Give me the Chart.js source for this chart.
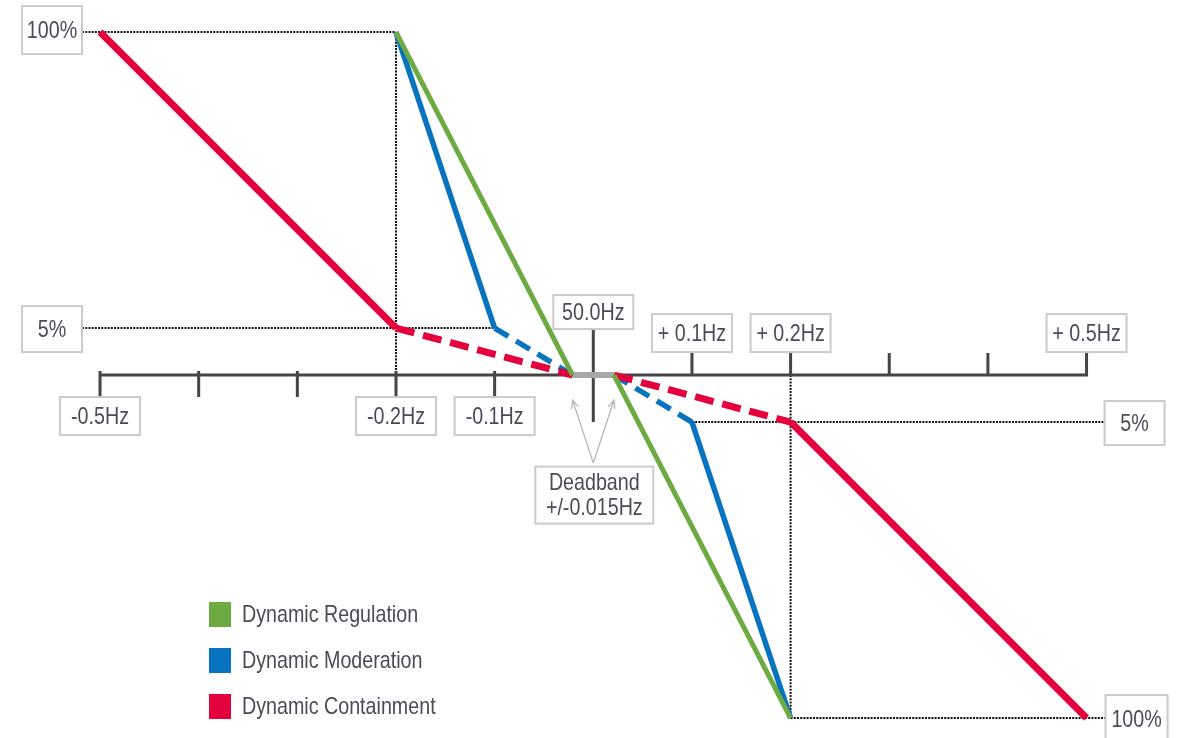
<!DOCTYPE html>
<html>
<head>
<meta charset="utf-8">
<title>Dynamic response services</title>
<script src="https://cdn.jsdelivr.net/npm/chart.js@4.4.1/dist/chart.umd.min.js"></script>
<style>
  html, body { margin: 0; padding: 0; background: #fff; }
  #wrap { width: 1178px; height: 738px; }
</style>
</head>
<body>
<div id="wrap"><canvas id="responseChart" width="1178" height="738"></canvas></div>
<script>
// Frequency deviation (Hz) against power response (%) for each service
const containmentFreq = [-0.5, -0.2, -0.021, 0.021, 0.2, 0.5];
const containmentPower = [100, 5, 0, 0, -5, -100];
const moderationFreq = [-0.2, -0.1, -0.021, 0.021, 0.1, 0.2];
const moderationPower = [100, 5, 0, 0, -5, -100];
const regulationFreq = [-0.2, -0.021, 0.021, 0.2];
const regulationPower = [100, 0, 0, -100];
const deadbandFreq = [-0.021, 0.021];
const deadbandPower = [0, 0];

// axis ticks and labels
const axisTicks = [-0.5, -0.4, -0.3, -0.2, -0.1, 0, 0.1, 0.2, 0.3, 0.4, 0.5];
const freqLabelValues = [-0.5, -0.2, -0.1, 0.1, 0.2, 0.5];
const freqLabels = ["-0.5Hz", "-0.2Hz", "-0.1Hz", "+ 0.1Hz", "+ 0.2Hz", "+ 0.5Hz"];
const centreLabel = "50.0Hz";
const powerLabelValues = [100, 5];
const powerLabels = ["100%", "5%"];
const deadbandLabel = ["Deadband", "+/-0.015Hz"];

const seriesNames = ["Dynamic Regulation", "Dynamic Moderation", "Dynamic Containment"];
const seriesColors = ["#6dab42", "#0873bf", "#e4003c"];

const TEXT_COLOR = "#494c57";
const BOX_BORDER = "#cbcbcb";

// The y axis is split: 0-5% takes as much room as a 15% step above 5%
const BAND = 5;
const STRETCH = 6.3;

function warp(v) {
  const a = Math.abs(v);
  const w = a <= BAND ? a / BAND : 1 + (a - BAND) / (100 - BAND) * STRETCH;
  return v < 0 ? -w : w;
}

function unwarp(w) {
  const a = Math.abs(w);
  const v = a <= 1 ? a * BAND : BAND + (a - 1) / STRETCH * (100 - BAND);
  return w < 0 ? -v : v;
}

class SplitScale extends Chart.LinearScale {
  getPixelForValue(value) {
    if (value === null || value === undefined) return NaN;
    const lo = warp(this.min);
    const hi = warp(this.max);
    return this.getPixelForDecimal((warp(value) - lo) / (hi - lo));
  }
  getValueForPixel(pixel) {
    const lo = warp(this.min);
    const hi = warp(this.max);
    return unwarp(lo + this.getDecimalForPixel(pixel) * (hi - lo));
  }
}
SplitScale.id = "split";
SplitScale.defaults = Chart.LinearScale.defaults;
Chart.register(SplitScale);

function points(xs, ys) {
  return xs.map((x, i) => ({ x: x, y: ys[i] }));
}

// dashed segments next to the deadband, nothing drawn across it
function segmentStyle(dashed, skipped, dash) {
  return {
    borderDash: ctx => dashed.includes(ctx.p0DataIndex) ? dash : undefined,
    borderColor: ctx => skipped.includes(ctx.p0DataIndex) ? "rgba(0,0,0,0)" : undefined
  };
}

// condensed text, drawn as Liberation Sans squeezed sideways
function narrowText(ctx, str, x, y, size, align) {
  ctx.save();
  ctx.translate(x, y);
  ctx.scale(0.82, 1);
  ctx.font = size + 'px "Liberation Sans", Arial, sans-serif';
  ctx.fillStyle = TEXT_COLOR;
  ctx.textAlign = align || "center";
  ctx.textBaseline = "middle";
  ctx.fillText(str, 0, 0);
  ctx.restore();
}

function labelBox(ctx, lines, cx, cy, w, h) {
  ctx.save();
  ctx.fillStyle = "#fff";
  ctx.fillRect(cx - w / 2, cy - h / 2, w, h);
  ctx.strokeStyle = BOX_BORDER;
  ctx.lineWidth = 2;
  ctx.strokeRect(cx - w / 2, cy - h / 2, w, h);
  ctx.restore();
  const step = 25;
  lines.forEach((line, i) => {
    narrowText(ctx, line, cx, cy + (i - (lines.length - 1) / 2) * step + 1, 24);
  });
}

function dotted(ctx, x1, y1, x2, y2) {
  ctx.save();
  ctx.strokeStyle = "#111";
  ctx.lineWidth = 2;
  ctx.setLineDash([2, 1.2]);
  ctx.beginPath();
  ctx.moveTo(x1, y1);
  ctx.lineTo(x2, y2);
  ctx.stroke();
  ctx.restore();
}

function arrow(ctx, x1, y1, x2, y2) {
  const ang = Math.atan2(y2 - y1, x2 - x1);
  const len = 9;
  ctx.save();
  ctx.strokeStyle = "#b8b8b8";
  ctx.lineWidth = 1.3;
  ctx.beginPath();
  ctx.moveTo(x1, y1);
  ctx.lineTo(x2, y2);
  ctx.moveTo(x2 - len * Math.cos(ang - 0.4), y2 - len * Math.sin(ang - 0.4));
  ctx.lineTo(x2, y2);
  ctx.lineTo(x2 - len * Math.cos(ang + 0.4), y2 - len * Math.sin(ang + 0.4));
  ctx.stroke();
  ctx.restore();
}

const diagramPlugin = {
  id: "diagram",
  beforeDatasetsDraw(chart) {
    const ctx = chart.ctx;
    const xs = chart.scales.x;
    const ys = chart.scales.y;
    const X = v => xs.getPixelForValue(v);
    const Y = v => ys.getPixelForValue(v);
    const y0 = Y(0);

    // dotted guides to the percentage boxes
    const leftEdge = X(containmentFreq[0]) - 18;
    const rightEdge = X(containmentFreq[containmentFreq.length - 1]) + 19;
    dotted(ctx, leftEdge, Y(regulationPower[0]), X(regulationFreq[0]), Y(regulationPower[0]));
    dotted(ctx, X(regulationFreq[0]), Y(regulationPower[0]), X(regulationFreq[0]), y0);
    dotted(ctx, leftEdge, Y(moderationPower[1]), X(moderationFreq[1]), Y(moderationPower[1]));
    dotted(ctx, X(moderationFreq[4]), Y(moderationPower[4]), rightEdge, Y(moderationPower[4]));
    dotted(ctx, X(regulationFreq[3]), y0, X(regulationFreq[3]), Y(regulationPower[3]));
    dotted(ctx, X(regulationFreq[3]), Y(regulationPower[3]), rightEdge, Y(regulationPower[3]));

    // frequency axis
    ctx.save();
    ctx.strokeStyle = "#454545";
    ctx.lineWidth = 3;
    ctx.beginPath();
    ctx.moveTo(X(axisTicks[0]) - 1.5, y0);
    ctx.lineTo(X(axisTicks[axisTicks.length - 1]) + 1.5, y0);
    axisTicks.forEach(v => {
      const px = X(v);
      if (v < 0) { ctx.moveTo(px, y0 - 4); ctx.lineTo(px, y0 + 22); }
      else if (v > 0) { ctx.moveTo(px, y0 - 22); ctx.lineTo(px, y0 + 1); }
      else { ctx.moveTo(px, y0 - 45); ctx.lineTo(px, y0 + 47); }
    });
    ctx.stroke();
    ctx.restore();
  },
  afterDatasetsDraw(chart) {
    const ctx = chart.ctx;
    const xs = chart.scales.x;
    const ys = chart.scales.y;
    const X = v => xs.getPixelForValue(v);
    const Y = v => ys.getPixelForValue(v);
    const y0 = Y(0);
    const xLeft = X(axisTicks[0]);
    const xRight = X(axisTicks[axisTicks.length - 1]);

    // percentage boxes, left side for positive, right side for negative response
    labelBox(ctx, [powerLabels[0]], xLeft - 48, Y(powerLabelValues[0]) - 2, 60, 48);
    labelBox(ctx, [powerLabels[1]], xLeft - 48, Y(powerLabelValues[1]) + 1, 60, 46);
    labelBox(ctx, [powerLabels[1]], xRight + 48, Y(-powerLabelValues[1]) + 1, 60, 44);
    labelBox(ctx, [powerLabels[0]], xRight + 50, Y(-powerLabelValues[0]) + 1, 62, 48);

    // frequency boxes
    freqLabelValues.forEach((v, i) => {
      const cy = v < 0 ? y0 + 41 : y0 - 42;
      labelBox(ctx, [freqLabels[i]], X(v), cy, 80, 38);
    });
    labelBox(ctx, [centreLabel], X(0), y0 - 63, 80, 34);

    // deadband note with arrows
    const noteTop = y0 + 88;
    arrow(ctx, X(0), noteTop, X(deadbandFreq[0]), y0 + 25);
    arrow(ctx, X(0), noteTop, X(deadbandFreq[1]), y0 + 25);
    labelBox(ctx, deadbandLabel, X(0) + 1, y0 + 120, 118, 57);

    // legend
    seriesNames.forEach((name, i) => {
      const cy = 614 + i * 46;
      ctx.fillStyle = seriesColors[i];
      ctx.fillRect(209, cy - 12, 22, 25);
      narrowText(ctx, name, 242, cy + 1, 24, "left");
    });
  }
};

const ctx = document.getElementById("responseChart").getContext("2d");

new Chart(ctx, {
  type: "line",
  data: {
    datasets: [
      {
        label: seriesNames[0],
        data: points(regulationFreq, regulationPower),
        borderColor: seriesColors[0],
        borderWidth: 5,
        segment: segmentStyle([], [1], []),
        order: 0
      },
      {
        label: seriesNames[2],
        data: points(containmentFreq, containmentPower),
        borderColor: seriesColors[2],
        borderWidth: 7,
        segment: segmentStyle([1, 3], [2], [19, 9]),
        order: 1
      },
      {
        label: seriesNames[1],
        data: points(moderationFreq, moderationPower),
        borderColor: seriesColors[1],
        borderWidth: 5.5,
        segment: segmentStyle([1, 3], [2], [16, 9]),
        order: 2
      },
      {
        label: "Deadband",
        data: points(deadbandFreq, deadbandPower),
        borderColor: "#a8a8a8",
        borderWidth: 6,
        order: 3
      }
    ]
  },
  options: {
    responsive: false,
    animation: false,
    layout: { padding: 0 },
    elements: {
      point: { radius: 0, hoverRadius: 0 },
      line: { tension: 0, fill: false, borderCapStyle: "butt", borderJoinStyle: "round" }
    },
    scales: {
      x: { type: "linear", min: -0.6014, max: 0.5927, display: false },
      y: { type: "split", min: -106.4, max: 110.3, display: false }
    },
    plugins: {
      legend: { display: false },
      tooltip: { enabled: false }
    }
  },
  plugins: [diagramPlugin]
});
</script>
</body>
</html>
